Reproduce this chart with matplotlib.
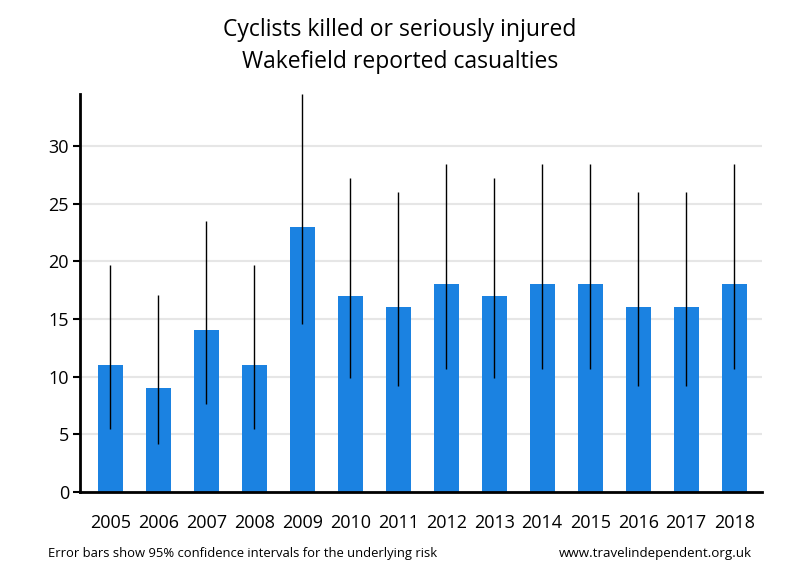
import matplotlib
matplotlib.use("Agg")
import matplotlib.pyplot as plt
import numpy as np

years = ["2005", "2006", "2007", "2008", "2009", "2010", "2011", "2012", "2013",
         "2014", "2015", "2016", "2017", "2018"]
casualties = [11, 9, 14, 11, 23, 17, 16, 18, 17, 18, 18, 16, 16, 18]
ci_low = [5.49, 4.12, 7.65, 5.49, 14.58, 9.90, 9.15, 10.67, 9.90, 10.67, 10.67, 9.15, 9.15, 10.67]
ci_high = [19.68, 17.08, 23.49, 19.68, 34.51, 27.22, 25.98, 28.45, 27.22, 28.45, 28.45, 25.98, 25.98, 28.45]
yticks = [0, 5, 10, 15, 20, 25, 30]

plt.rcParams['font.family'] = ['Open Sans', 'DejaVu Sans']

fig = plt.figure(figsize=(8, 5.8), dpi=100)
ax = fig.add_axes([0.1, 0.1517, 0.8525, 0.6863])

x = np.arange(len(years))
vals = np.array(casualties)
lo = vals - np.array(ci_low)
hi = np.array(ci_high) - vals

ax.bar(x, vals, width=0.52, color="#1b82e1", zorder=2)
ax.errorbar(x, vals, yerr=[lo, hi], fmt="none", ecolor="black", elinewidth=1, capsize=0, zorder=3)

ax.set_xlim(-0.63, 13.58)
ax.set_ylim(0, 34.5)
ax.set_yticks(yticks)
ax.set_xticks(x)
ax.set_xticklabels(years)
ax.tick_params(axis="x", length=0, pad=16, labelsize=13)
ax.tick_params(axis="y", length=5, width=1.5, labelsize=13, pad=3)
ax.yaxis.grid(True, color="#e6e6e6", linewidth=1.5, zorder=0)
ax.set_axisbelow(True)
for s in ["top", "right"]:
    ax.spines[s].set_visible(False)
for s in ["left", "bottom"]:
    ax.spines[s].set_linewidth(2)
    ax.spines[s].set_color("black")

fig.text(0.5, 0.948, "Cyclists killed or seriously injured", ha="center", va="center", fontsize=16.5)
fig.text(0.5, 0.893, "Wakefield reported casualties", ha="center", va="center", fontsize=16.5)
fig.text(0.06, 0.046, "Error bars show 95% confidence intervals for the underlying risk", ha="left", va="center", fontsize=9.4)
fig.text(0.94, 0.046, "www.travelindependent.org.uk", ha="right", va="center", fontsize=9.6)

fig.savefig("out.png", dpi=100)
